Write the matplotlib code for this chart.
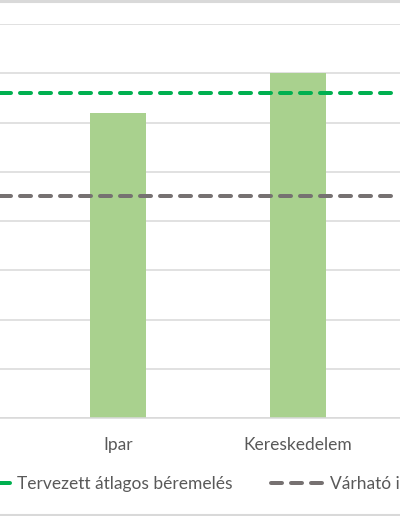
import matplotlib
matplotlib.use('Agg')
import matplotlib.pyplot as plt
from matplotlib.lines import Line2D

# data
categories = ['Ipar', 'Kereskedelem']
bar_values = [6.2, 7.0]
planned_raise = 6.6      # Tervezett átlagos béremelés
expected_infl = 4.5      # Várható infláció
series_names = ['Tervezett átlagos béremelés', 'Várható infláció']

plt.rcParams['font.family'] = ['Lato', 'DejaVu Sans']

W, H = 400, 516
fig = plt.figure(figsize=(W / 100, H / 100), dpi=100)

# plot area: baseline at y=418 px, top gridline (8) at y=24 px
ax = fig.add_axes([0, (H - 418) / H, 1, (418 - 24) / H])
ax.set_ylim(0, 8)
# category spacing 180 px, first visible category centre at x=118 px
ax.set_xlim(-118 / 180, (W - 118) / 180)

x = list(range(len(categories)))
ax.bar(x, bar_values, width=0.307, color='#a9d18e', zorder=2)

lw_px = 4
lw = lw_px * 72 / 100
ax.axhline(planned_raise, color='#00b050', lw=lw, dashes=(2.75, 2.25),
           dash_capstyle='round', zorder=3, label=series_names[0])
ax.axhline(expected_infl, color='#767171', lw=lw, dashes=(2.75, 2.25),
           dash_capstyle='round', zorder=3, label=series_names[1])

fs = 12.5
ax.set_yticks(range(0, 9))
ax.yaxis.grid(True, color='#d9d9d9', lw=1.1, zorder=0)
ax.set_axisbelow(True)
ax.tick_params(axis='y', left=False, labelleft=False)
ax.set_xticks(x)
ax.set_xticklabels(categories, fontsize=fs, color='#595959')
ax.tick_params(axis='x', bottom=False, pad=10)
for s in ['top', 'left', 'right']:
    ax.spines[s].set_visible(False)
ax.spines['bottom'].set_color('#d9d9d9')
ax.spines['bottom'].set_linewidth(1.1)

fs_px = fs * 100 / 72
handles, labels = ax.get_legend_handles_labels()
fig.legend(handles, labels, loc='center left', ncol=2, frameon=False,
           fontsize=fs, labelcolor='#595959', borderpad=0, borderaxespad=0,
           handlelength=53 / fs_px, handletextpad=7 / fs_px,
           columnspacing=38 / fs_px,
           bbox_to_anchor=(-43 / W, (H - 484) / H))

# chart frame: top and bottom borders
fig.add_artist(Line2D([0, 1], [1 - 1 / H, 1 - 1 / H], color='#d9d9d9',
                      lw=2.2, transform=fig.transFigure))
fig.add_artist(Line2D([0, 1], [1.5 / H, 1.5 / H], color='#d9d9d9',
                      lw=2.2, transform=fig.transFigure))

fig.savefig('out.png', dpi=100)
